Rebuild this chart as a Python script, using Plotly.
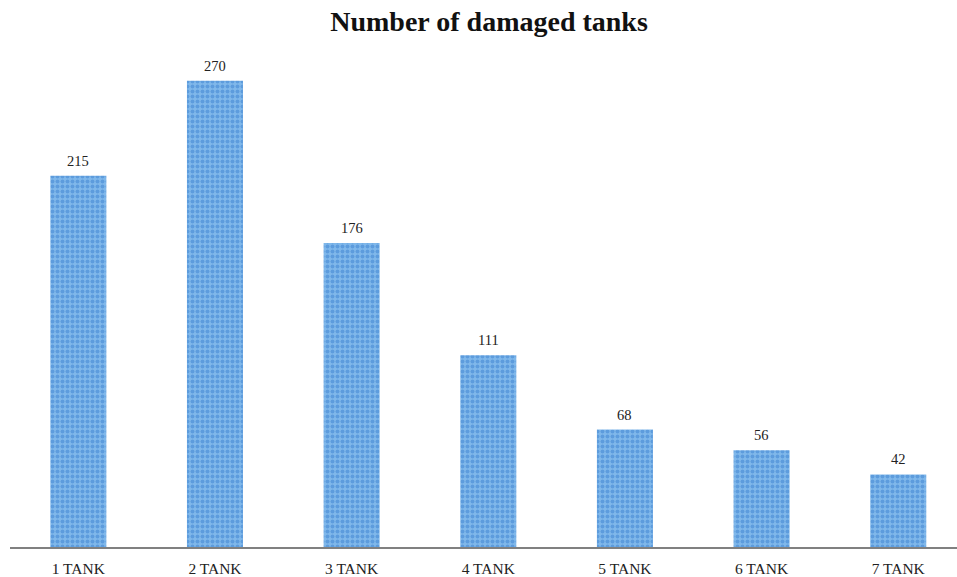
import plotly.graph_objects as go

categories = ["1 TANK", "2 TANK", "3 TANK", "4 TANK", "5 TANK", "6 TANK", "7 TANK"]
values = [215, 270, 176, 111, 68, 56, 42]
title_text = "Number of damaged tanks"

fig = go.Figure()
fig.add_trace(go.Bar(
    x=categories, y=values, width=0.41,
    marker=dict(color="#80b8ea",
                line=dict(width=0),
                pattern=dict(shape=".", fgcolor="#3a7fcf", bgcolor="#80b8ea",
                             size=5, solidity=0.5)),
    cliponaxis=False,
))

for c, v in zip(categories, values):
    fig.add_annotation(x=c, y=v, text=str(v), showarrow=False,
                       yanchor="bottom", yshift=5,
                       font=dict(family="Liberation Serif", size=14.5, color="#222"))

fig.update_layout(
    width=957, height=577,
    margin=dict(l=10, r=0, t=29, b=28),
    paper_bgcolor="white", plot_bgcolor="white",
    showlegend=False,
    title=dict(text="<b>" + title_text + "</b>", x=0.511, xanchor="center",
               y=0.963, yanchor="middle",
               font=dict(family="Liberation Serif", size=28, color="#111")),
    xaxis=dict(range=[-0.5, 6.43], showgrid=False, showline=True,
               linecolor="#808080", linewidth=2, ticks="",
               ticklabelstandoff=6,
               tickfont=dict(family="Liberation Serif", size=15.5, color="#222")),
    yaxis=dict(range=[0, 300], visible=False, showgrid=False),
)

fig.write_html("out.html")
